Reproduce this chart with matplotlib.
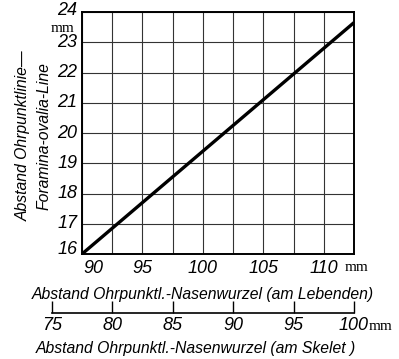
import matplotlib
matplotlib.use("Agg")
import matplotlib.pyplot as plt
from matplotlib.ticker import MultipleLocator
from matplotlib.transforms import blended_transform_factory

# data
x_live = [90, 112.5]
y_dist = [16, 23.65]
x_ticks = [90, 95, 100, 105, 110]
y_ticks = [16, 17, 18, 19, 20, 21, 22, 23, 24]
skel_ticks = [75, 80, 85, 90, 95, 100]

FONT = dict(family=["Liberation Sans", "DejaVu Sans"], style="italic")
MM = dict(family="Liberation Serif", fontsize=11)

fig = plt.figure(figsize=(3.99, 3.59), dpi=100)
ax = fig.add_axes([82/399, 1-254/359, 272/399, 242/359])
ax.plot(x_live, y_dist, color="black", lw=2.4, solid_capstyle="butt")
ax.set_xlim(90, 112.5)
ax.set_ylim(16, 24)
ax.xaxis.set_major_locator(MultipleLocator(2.5))
ax.yaxis.set_major_locator(MultipleLocator(1))
ax.grid(True, color="#333333", lw=0.8)
for s in ax.spines.values():
    s.set_linewidth(1.4)
ax.tick_params(length=0, labelbottom=False, labelleft=False)

for v in x_ticks:
    ax.text(v if v != 90 else 90.15, 15.8, str(v), ha="center" if v != 90 else "left",
            va="top", fontsize=13, **FONT)
for v in y_ticks:
    yy = v if v != 16 else 16.15
    if v == 24:
        yy = 24.05
    ax.text(89.6, yy, str(v), ha="right", va="center", fontsize=13, **FONT)
ax.text(111.7, 15.78, "mm", ha="left", va="top", **MM)
ax.text(89.4, 23.47, "mm", ha="right", va="center", **MM)

fig.text(203/399, 1-294/359, "Abstand Ohrpunktl.-Nasenwurzel (am Lebenden)",
         ha="center", va="center", fontsize=11.3, **FONT)
fig.text(23/399, 1-136/359, "Abstand Ohrpunktlinie\u2014", rotation=90,
         ha="center", va="center", fontsize=11.3, **FONT)
fig.text(44/399, 1-136/359, "Foramina-ovalia-Line", rotation=90,
         ha="center", va="center", fontsize=11.3, **FONT)

# skeleton scale
ax2 = fig.add_axes([52/399, 1-313/359, 302/399, 0.0001])
ax2.set_xlim(75, 100)
ax2.set_yticks([])
for k in ["top", "left", "right"]:
    ax2.spines[k].set_visible(False)
ax2.spines["bottom"].set_linewidth(1.2)
ax2.set_xticks(skel_ticks)
ax2.set_xticklabels([])
ax2.tick_params(axis="x", direction="in", length=9, width=1.0)
tr = blended_transform_factory(ax2.transData, fig.transFigure)
for v in skel_ticks:
    ax2.text(v, 1-325/359, str(v), ha="center", va="center", fontsize=13,
             transform=tr, **FONT)
fig.text(369/399, 1-326/359, "mm", ha="left", va="center", **MM)
fig.text(196/399, 1-348/359, "Abstand Ohrpunktl.-Nasenwurzel (am Skelet )",
         ha="center", va="center", fontsize=11.3, **FONT)

fig.savefig("out.png", dpi=100)
